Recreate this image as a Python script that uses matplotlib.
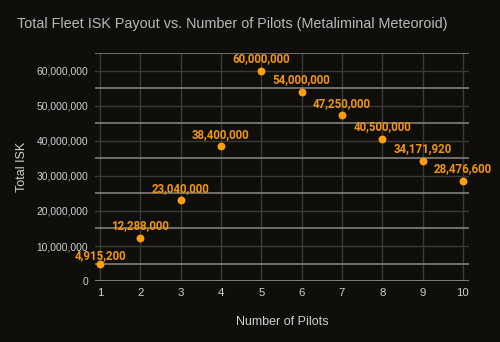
import matplotlib
matplotlib.use("Agg")
import matplotlib.pyplot as plt
import numpy as np

pilots = [1, 2, 3, 4, 5, 6, 7, 8, 9, 10]
payout = [4915200, 12288000, 23040000, 38400000, 60000000, 54000000,
          47250000, 40500000, 34171920, 28476600]
yticks = [0, 10000000, 20000000, 30000000, 40000000, 50000000, 60000000]
title = "Total Fleet ISK Payout vs. Number of Pilots (Metaliminal Meteoroid)"

bg = "#100e0b"
orange = "#ff9f0a"
txt = "#cfcfcf"

fig = plt.figure(figsize=(5, 3.42), dpi=100, facecolor=bg)
ax = fig.add_axes([0.19, 0.178, 0.748, 0.667], facecolor=bg)

ax.set_xlim(0.876, 10.15)
ax.set_ylim(0, 65000000)

# dim grid at tick positions
for y in yticks:
    ax.axhline(y, color="#3c3a37", lw=1, zorder=1)
for x in pilots:
    ax.axvline(x, color="#3c3a37", lw=1, zorder=1)
# bright lines at half positions
for y in np.arange(5000000, 65000001, 10000000):
    ax.axhline(y, color="#8a8885", lw=1.1, zorder=1)
ax.axhline(0, color="#9a9895", lw=1.1, zorder=2)

for s in ax.spines.values():
    s.set_visible(False)

ax.scatter(pilots, payout, s=32, color=orange, zorder=3, linewidths=0)
for i, (x, y) in enumerate(zip(pilots, payout)):
    off = 3.2 if i == 0 else 6.2
    ax.annotate(f"{y:,}", (x, y), xytext=(0, off), textcoords="offset points",
                ha="center", va="baseline", color="#f0960a", fontsize=8.3,
                fontweight="bold", family="Roboto", zorder=4)

ax.set_xticks(pilots)
ax.set_yticks(yticks)
ax.set_yticklabels([f"{v:,}" for v in yticks])
ax.tick_params(length=0, colors=txt, labelsize=7.4, pad=5)
ax.tick_params(axis="x", labelsize=8.2, pad=5)
for lab in ax.get_xticklabels() + ax.get_yticklabels():
    lab.set_family("Liberation Sans")

ax.set_xlabel("Number of Pilots", color=txt, fontsize=9, family="Liberation Sans", labelpad=13)
ax.set_ylabel("Total ISK", color=txt, fontsize=9, family="Liberation Sans", labelpad=6)
fig.text(0.034, 0.93, title, color="#b8b8b8", fontsize=10.4, family="Liberation Sans",
         ha="left", va="center")

fig.savefig("out.png", dpi=100, facecolor=bg)
